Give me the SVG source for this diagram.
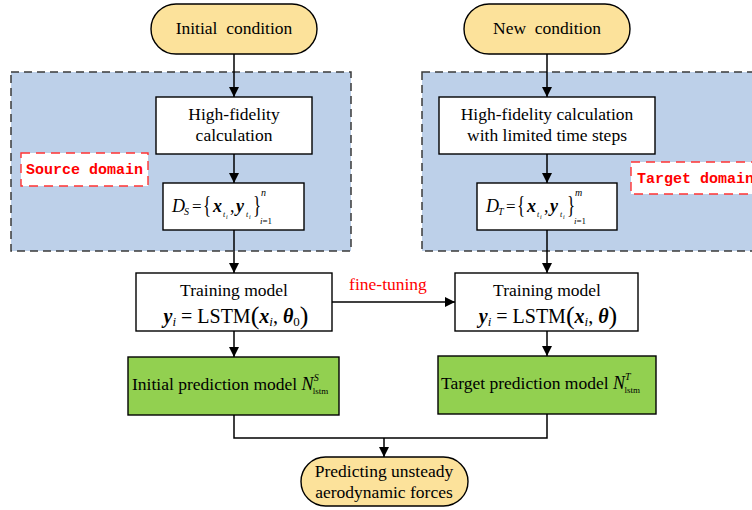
<svg xmlns="http://www.w3.org/2000/svg" width="752" height="510" viewBox="0 0 752 510">
<defs>
<marker id="arr" markerUnits="userSpaceOnUse" markerWidth="10" markerHeight="10" refX="10" refY="5" orient="auto">
<path d="M0,0 L10,5 L0,10 Z" fill="#000"/>
</marker>
<style>
.box{fill:#fff;stroke:#000;stroke-width:1.4}
.pill{fill:#FCE29B;stroke:#000;stroke-width:1.4}
.green{fill:#92D050;stroke:#000;stroke-width:1.4}
.domain{fill:#BDD0E9;stroke:#3a3a3a;stroke-width:1.5;stroke-dasharray:8 5}
.t{font-family:"Liberation Serif","Times New Roman",serif;font-size:17.5px;fill:#000}
.m{font-family:"Liberation Serif","Times New Roman",serif;fill:#000}
.bi{font-weight:bold;font-style:italic}
.it{font-style:italic}
.lbl{font-family:"Liberation Mono","Courier New",monospace;font-size:15px;font-weight:bold;fill:#f00}
.lblbox{fill:#fff;stroke:#f33;stroke-width:1.4;stroke-dasharray:9 6}
.c{fill:none;stroke:#000;stroke-width:1.5}
.red{fill:#f00}
</style>
</defs>

<g id="source-domain">
<rect class="domain" x="11" y="72" width="340" height="179"/>
<rect class="lblbox" x="21" y="153" width="127" height="33"/>
<text class="lbl" x="26" y="174">Source domain</text>
</g>
<g id="target-domain">
<rect class="domain" x="422" y="72" width="345" height="179"/>
<rect class="lblbox" x="631" y="162" width="140" height="32"/>
<text class="lbl" x="637" y="183">Target domain</text>
</g>

<g id="connectors">
<path class="c" d="M234 54 V97" marker-end="url(#arr)"/>
<path class="c" d="M234 154 V183" marker-end="url(#arr)"/>
<path class="c" d="M234 230 V273" marker-end="url(#arr)"/>
<path class="c" d="M234 331 V357" marker-end="url(#arr)"/>
<path class="c" d="M547 54 V97" marker-end="url(#arr)"/>
<path class="c" d="M547 154 V183" marker-end="url(#arr)"/>
<path class="c" d="M547 230 V273" marker-end="url(#arr)"/>
<path class="c" d="M547 331 V356" marker-end="url(#arr)"/>
<path class="c" d="M332 302 H455" marker-end="url(#arr)"/>
<text class="t red" x="388" y="290" text-anchor="middle">fine-tuning</text>
<path class="c" d="M234 415 V438 H547 V414"/>
<path class="c" d="M384 438 V457" marker-end="url(#arr)"/>
</g>

<g id="initial-condition">
<rect class="pill" x="151" y="4" width="166" height="50" rx="25"/>
<text class="t" x="234" y="34" text-anchor="middle" xml:space="preserve">Initial  condition</text>
</g>
<g id="new-condition">
<rect class="pill" x="464" y="4" width="166" height="50" rx="25"/>
<text class="t" x="547" y="34" text-anchor="middle" xml:space="preserve">New  condition</text>
</g>

<g id="hf-source">
<rect class="box" x="156" y="97" width="156" height="57"/>
<text class="t" x="234" y="120" text-anchor="middle">High-fidelity</text>
<text class="t" x="234" y="141" text-anchor="middle">calculation</text>
</g>
<g id="hf-target">
<rect class="box" x="439" y="97" width="216" height="57"/>
<text class="t" x="547" y="120" text-anchor="middle">High-fidelity calculation</text>
<text class="t" x="547" y="141" text-anchor="middle">with limited time steps</text>
</g>

<g id="ds">
<rect class="box" x="163" y="183" width="141" height="47"/>
<text class="m it" x="172" y="212" font-size="18">D</text>
<text class="m it" x="184" y="215" font-size="10">S</text>
<text class="m" x="192" y="212" font-size="17">=</text>
<text class="m" transform="translate(203 213) scale(1 1.45)" font-size="17">{</text>
<text class="m bi" x="213" y="212" font-size="18">x</text>
<text class="m it" x="223" y="217" font-size="8">t</text>
<text class="m it" x="226" y="219" font-size="6">i</text>
<text class="m" x="230" y="212" font-size="18">,</text>
<text class="m bi" x="236" y="212" font-size="18">y</text>
<text class="m it" x="246" y="217" font-size="8">t</text>
<text class="m it" x="249" y="219" font-size="6">i</text>
<text class="m" transform="translate(253 213) scale(1 1.45)" font-size="17">}</text>
<text class="m it" x="261" y="196" font-size="10">n</text>
<text class="m" x="260" y="224" font-size="9"><tspan class="it">i</tspan>=1</text>
</g>
<g id="dt">
<rect class="box" x="477" y="183" width="140" height="47"/>
<text class="m it" x="486" y="212" font-size="18">D</text>
<text class="m it" x="498" y="215" font-size="10">T</text>
<text class="m" x="506" y="212" font-size="17">=</text>
<text class="m" transform="translate(517 213) scale(1 1.45)" font-size="17">{</text>
<text class="m bi" x="527" y="212" font-size="18">x</text>
<text class="m it" x="537" y="217" font-size="8">t</text>
<text class="m it" x="540" y="219" font-size="6">i</text>
<text class="m" x="544" y="212" font-size="18">,</text>
<text class="m bi" x="550" y="212" font-size="18">y</text>
<text class="m it" x="560" y="217" font-size="8">t</text>
<text class="m it" x="563" y="219" font-size="6">i</text>
<text class="m" transform="translate(567 213) scale(1 1.45)" font-size="17">}</text>
<text class="m it" x="575" y="196" font-size="10">m</text>
<text class="m" x="574" y="224" font-size="9"><tspan class="it">i</tspan>=1</text>
</g>

<g id="train-source">
<rect class="box" x="136" y="273" width="196" height="58"/>
<text class="t" x="234" y="296" text-anchor="middle">Training model</text>
<text class="m" x="236" y="323" font-size="20" text-anchor="middle"><tspan class="bi">y</tspan><tspan class="it" font-size="13" dy="3">i</tspan><tspan dy="-3"> = LSTM</tspan><tspan font-size="26" dy="1">(</tspan><tspan class="bi" dy="-1">x</tspan><tspan class="it" font-size="13" dy="3">i</tspan><tspan dy="-3">, </tspan><tspan class="bi">θ</tspan><tspan font-size="13" dy="3">0</tspan><tspan font-size="26" dy="-2">)</tspan></text>
</g>
<g id="train-target">
<rect class="box" x="455" y="273" width="183" height="58"/>
<text class="t" x="547" y="296" text-anchor="middle">Training model</text>
<text class="m" x="548" y="323" font-size="20" text-anchor="middle"><tspan class="bi">y</tspan><tspan class="it" font-size="13" dy="3">i</tspan><tspan dy="-3"> = LSTM</tspan><tspan font-size="26" dy="1">(</tspan><tspan class="bi" dy="-1">x</tspan><tspan class="it" font-size="13" dy="3">i</tspan><tspan dy="-3">, </tspan><tspan class="bi">θ</tspan><tspan font-size="26" dy="1">)</tspan></text>
</g>

<g id="pred-source">
<rect class="green" x="128" y="357" width="211" height="58"/>
<text class="t" x="132" y="390">Initial prediction model <tspan class="it" font-size="18">N</tspan><tspan class="it" font-size="10" dy="-9">S</tspan><tspan font-size="9" dx="-6" dy="13">lstm</tspan></text>
</g>
<g id="pred-target">
<rect class="green" x="438" y="356" width="218" height="58"/>
<text class="t" x="441" y="389">Target prediction model <tspan class="it" font-size="18">N</tspan><tspan class="it" font-size="10" dy="-9">T</tspan><tspan font-size="9" dx="-6" dy="13">lstm</tspan></text>
</g>

<g id="predicting">
<rect class="pill" x="301" y="457" width="167" height="49" rx="24.5"/>
<text class="t" x="384" y="477" text-anchor="middle">Predicting unsteady</text>
<text class="t" x="384" y="498" text-anchor="middle">aerodynamic forces</text>
</g>
</svg>
